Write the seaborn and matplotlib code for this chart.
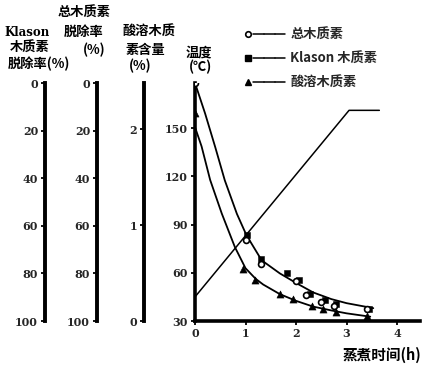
import numpy as np
import pandas as pd
import seaborn as sns
import matplotlib.pyplot as plt
from matplotlib.lines import Line2D
from matplotlib.legend_handler import HandlerTuple

# temperature programme (h, degC)
temp_time = [0, 3.05, 3.65]
temp_c = [45, 161, 161]

# total / Klason lignin removal curve (h, %)
rm_curve_t = [0, 0.2, 0.4, 0.59, 0.83, 1.02, 1.32, 1.68, 2.0, 2.34, 2.7, 3.0, 3.53]
rm_curve_v = [0, 12.8, 26.9, 40.9, 55, 64, 74.5, 80, 84, 88, 90.8, 92.5, 94.6]

# measured points
total_t = [0, 1.0, 1.3, 2.0, 2.2, 2.5, 2.75, 3.4]
total_v = [0, 66, 76, 83, 89, 92, 93.5, 95]
klason_t = [1.02, 1.3, 1.82, 2.05, 2.27, 2.57, 2.8, 3.45]
klason_v = [64, 74, 80, 82.8, 88.5, 91.3, 93, 94.8]

# acid-soluble lignin content curve (h, %)
ac_curve_t = [0, 0.13, 0.3, 0.53, 0.79, 1.0, 1.2, 1.35, 1.68, 2.0, 2.34, 2.7, 3.0, 3.47]
ac_curve_v = [2.02, 1.82, 1.47, 1.12, 0.77, 0.55, 0.44, 0.38, 0.28, 0.21, 0.15, 0.11, 0.08, 0.045]
acid_t = [0, 0.96, 1.19, 1.68, 1.95, 2.31, 2.54, 2.8, 3.4]
acid_v = [2.17, 0.54, 0.43, 0.28, 0.23, 0.16, 0.12, 0.09, 0.05]

sns.set_theme(style='white')
cjk = ['Noto Sans CJK SC', 'DejaVu Sans']
plt.rcParams['font.family'] = cjk
num_font = dict(family='DejaVu Serif', weight='bold', size=8)

W, H = 432, 375
fig = plt.figure(figsize=(W / 100, H / 100), dpi=100)
fig.patch.set_facecolor('white')

x0, y_bot, y_top = 195, 321, 83
box = [x0 / W, 1 - y_bot / H, 225 / W, (y_bot - y_top) / H]

ax = fig.add_axes(box)
ax.set_facecolor('none')
sns.lineplot(x=temp_time, y=temp_c, ax=ax, color='black', lw=1.1, sort=False)
ax.set_xlim(0, 4.455)
ax.set_ylim(30, 178)
ax.set_xticks([0, 1, 2, 3, 4])
ax.set_yticks([30, 60, 90, 120, 150])
for s in ['top', 'right']:
    ax.spines[s].set_visible(False)
for s in ['left', 'bottom']:
    ax.spines[s].set_linewidth(2.6)
    ax.spines[s].set_color('black')
ax.tick_params(axis='both', direction='out', length=3, width=1.3, color='black', pad=2,
               left=True, bottom=True)
for lab in ax.get_xticklabels() + ax.get_yticklabels():
    lab.set_fontproperties(num_font)
ax.set_xlabel('')
ax.set_ylabel('')

ax_rm = ax.twinx()
ax_rm.set_ylim(100, 0)
ax_ac = ax.twinx()
ax_ac.set_ylim(0, 2.48)
for a in [ax_rm, ax_ac]:
    a.set_facecolor('none')
    a.axis('off')

sns.lineplot(x=rm_curve_t, y=rm_curve_v, ax=ax_rm, color='black', lw=1.3)
sns.lineplot(x=ac_curve_t, y=ac_curve_v, ax=ax_ac, color='black', lw=1.3)
sns.scatterplot(x=klason_t, y=klason_v, ax=ax_rm, marker='s', color='black', s=22,
                edgecolor='black', zorder=4)
sns.scatterplot(x=total_t, y=total_v, ax=ax_rm, marker='o', facecolor='white',
                edgecolor='black', linewidth=1.2, s=18, zorder=5)
sns.scatterplot(x=acid_t, y=acid_v, ax=ax_ac, marker='^', color='black', s=26,
                edgecolor='black', zorder=4)
for a in [ax_rm, ax_ac]:
    a.set_xlim(0, 4.455)

# separate left scales
scales = [(45, (100, 0), [0, 20, 40, 60, 80, 100]),
          (97, (100, 0), [0, 20, 40, 60, 80, 100]),
          (144, (0, 2.48), [0, 1, 2])]
for xp, lim, ticks in scales:
    sa = fig.add_axes([xp / W, 1 - y_bot / H, 0.0005, (y_bot - y_top) / H])
    sa.set_facecolor('none')
    sa.set_ylim(*lim)
    sa.set_yticks(ticks)
    sa.set_xticks([])
    for s in ['top', 'right', 'bottom']:
        sa.spines[s].set_visible(False)
    sa.spines['left'].set_linewidth(2.8)
    sa.spines['left'].set_color('black')
    sa.tick_params(axis='y', direction='out', length=3, width=1.3, color='black', pad=2, left=True)
    for lab in sa.get_yticklabels():
        lab.set_fontproperties(num_font)


def ftext(s, x, y, ha='center', **kw):
    props = dict(fontsize=9.5, fontweight='bold', family=cjk, color='black')
    props.update(kw)
    fig.text(x / W, 1 - y / H, s, ha=ha, va='center', **props)


ftext('总木质素', 84, 13)
ftext('Klason', 27, 32, family='DejaVu Serif', fontsize=8.5)
ftext('脱除率', 84, 32)
ftext('酸溶木质', 149, 32)
ftext('木质素', 30, 48)
ftext('(%)', 94, 50)
ftext('素含量', 146, 50)
ftext('温度', 199, 52)
ftext('脱除率(%)', 70, 64, ha='right')
ftext('(%)', 140, 66)
ftext('(℃)', 200, 67)
ftext('蒸煮时间(h)', 382, 355, fontsize=10.5)

# legend: marker then line
mk_o = Line2D([], [], ls='none', marker='o', mfc='white', mec='black', mew=1.2, ms=4)
mk_s = Line2D([], [], ls='none', marker='s', color='black', ms=4.5)
mk_t = Line2D([], [], ls='none', marker='^', color='black', ms=5)
ln = Line2D([], [], color='black', lw=1.1)
fig.legend(handles=[(mk_o, ln, ln, ln), (mk_s, ln, ln, ln), (mk_t, ln, ln, ln)],
           labels=['总木质素', 'Klason 木质素', '酸溶木质素'],
           handler_map={tuple: HandlerTuple(ndivide=None, pad=0)},
           loc='upper left', bbox_to_anchor=(231 / W, 1 - 16 / H), frameon=False,
           handlelength=3.2, handletextpad=0.4, labelspacing=0.75, borderpad=0.4,
           prop=dict(family=cjk, weight='bold', size=9.5))

fig.savefig('out.png', dpi=100, facecolor='white')
